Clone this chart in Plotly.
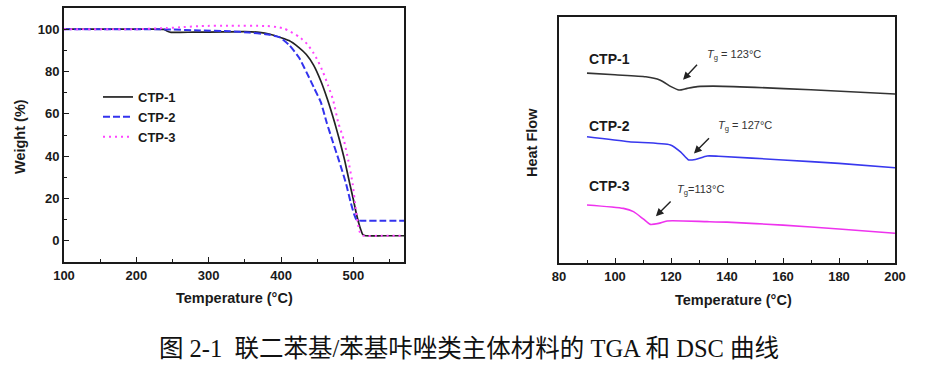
import plotly.graph_objects as go

# ---------------- TGA data (left panel) ----------------
tga_names = ["CTP-1", "CTP-2", "CTP-3"]
tga_temp_1 = [100, 200, 238, 243, 248, 280, 320, 350, 370, 385, 398, 411, 424, 435, 445, 455, 464, 474, 481, 488, 495, 500, 504, 509, 513, 517, 540, 570]
tga_wt_1 = [100, 100, 99.9, 99.0, 98.5, 98.6, 98.7, 98.8, 98.5, 97.6, 96.2, 94.6, 91.5, 88.0, 83.0, 75.5, 67.0, 56.0, 47.4, 38.0, 27.0, 19.5, 13.0, 6.5, 3.0, 2.4, 2.4, 2.4]
tga_temp_2 = [100, 200, 240, 287, 330, 356, 379, 398, 411, 425, 439, 446, 455, 463, 471, 480, 490, 496, 501, 504, 507, 512, 540, 570]
tga_wt_2 = [100, 100, 99.9, 99.4, 99.0, 98.4, 97.6, 96.2, 92.6, 86.5, 77.0, 72.0, 65.5, 56.0, 47.4, 38.0, 26.9, 18.5, 12.6, 10.2, 9.6, 9.5, 9.5, 9.5]
tga_temp_3 = [100, 200, 241, 265, 290, 330, 379, 395, 405, 425, 436, 444, 451, 458, 465, 472, 479, 487, 493, 499, 503, 506, 509, 513, 540, 570]
tga_wt_3 = [100, 100, 100.5, 101.0, 101.5, 101.6, 101.5, 101.0, 100.2, 96.4, 93.0, 89.2, 85.0, 79.8, 73.5, 66.5, 56.0, 47.4, 38.0, 26.9, 16.0, 8.5, 4.0, 2.5, 2.4, 2.4]

# ---------------- DSC data (right panel) ----------------
dsc_temp_1 = [90, 100, 111, 116, 120, 122.8, 125.8, 129.4, 135, 150, 170, 200]
dsc_hf_1 = [77.2, 76.5, 75.7, 74.4, 71.7, 70.3, 71.0, 71.7, 71.9, 71.4, 70.4, 68.7]
dsc_temp_2 = [90, 105, 119.8, 123.4, 126.3, 128.7, 132.9, 137, 160, 180, 200]
dsc_hf_2 = [51.3, 49.3, 48.0, 45.2, 41.9, 42.1, 43.5, 43.4, 41.9, 40.5, 38.7]
dsc_temp_3 = [90, 103, 106.6, 110.2, 112.6, 115.6, 118.6, 132.9, 140, 160, 180, 200]
dsc_hf_3 = [23.6, 22.2, 20.9, 17.8, 15.7, 16.1, 17.1, 16.8, 16.6, 15.4, 13.8, 12.1]

dsc_labels = ["CTP-1", "CTP-2", "CTP-3"]
dsc_label_x = [90, 90, 90]
dsc_label_y = [82.9, 55.8, 31.3]

tg_texts = ["<i>T</i><sub>g</sub> = 123°C", "<i>T</i><sub>g</sub> = 127°C", "<i>T</i><sub>g</sub>=113°C"]
tg_text_x = [142.5, 146.5, 130.5]
tg_text_y = [84.5, 55.5, 29.5]
tg_arrow_head_x = [124.3, 128.2, 114.6]
tg_arrow_head_y = [74.5, 44.5, 19.0]
tg_arrow_tail_x = [129.8, 134.1, 120.4]
tg_arrow_tail_y = [81.2, 51.3, 25.6]

caption = "图 2-1  联二苯基/苯基咔唑类主体材料的 TGA 和 DSC 曲线"

# ---------------- styles ----------------
tga_colors = ["#222222", "#3333ee", "#ff44ff"]
tga_dash = ["solid", "7px,3px", "2px,4px"]
tga_width = [1.7, 2.0, 2.0]
dsc_colors = ["#333333", "#3838ee", "#ee33ee"]

SANS = "Liberation Sans, Arial, sans-serif"
INK = "#1a1a1a"

fig = go.Figure()

tga_t = [tga_temp_1, tga_temp_2, tga_temp_3]
tga_w = [tga_wt_1, tga_wt_2, tga_wt_3]
for i in range(3):
    fig.add_trace(go.Scatter(
        x=tga_t[i], y=tga_w[i], name=tga_names[i], mode="lines",
        line=dict(color=tga_colors[i], width=tga_width[i], dash=tga_dash[i],
                  shape="spline", smoothing=0.5),
        xaxis="x", yaxis="y", showlegend=True))

dsc_t = [dsc_temp_1, dsc_temp_2, dsc_temp_3]
dsc_h = [dsc_hf_1, dsc_hf_2, dsc_hf_3]
for i in range(3):
    fig.add_trace(go.Scatter(
        x=dsc_t[i], y=dsc_h[i], name=dsc_labels[i], mode="lines",
        line=dict(color=dsc_colors[i], width=1.6, shape="spline", smoothing=0.6),
        xaxis="x2", yaxis="y2", showlegend=False))

tick_font = dict(family=SANS, size=13, color=INK, weight="bold")
axis_common = dict(showline=True, linecolor=INK, linewidth=2, mirror=True,
                   showgrid=False, zeroline=False, ticks="inside", ticklen=5,
                   tickwidth=1.4, tickcolor=INK, tickfont=tick_font, automargin=False)

fig.update_layout(
    width=926, height=369,
    margin=dict(l=0, r=0, t=0, b=0, pad=0),
    paper_bgcolor="white", plot_bgcolor="white",
    xaxis=dict(domain=[64 / 926, 404 / 926], range=[100, 570], tick0=100, dtick=100,
               minor=dict(dtick=50, ticks="inside", ticklen=3, tickcolor=INK),
               anchor="y", **axis_common),
    yaxis=dict(domain=[1 - 262 / 369, 1 - 8 / 369], range=[-10, 110], tick0=0, dtick=20,
               minor=dict(dtick=10, ticks="inside", ticklen=3, tickcolor=INK),
               anchor="x", **axis_common),
    xaxis2=dict(domain=[559 / 926, 895 / 926], range=[80, 200], tick0=80, dtick=20,
                minor=dict(dtick=10, ticks="inside", ticklen=3, tickcolor=INK),
                anchor="y2", **axis_common),
    yaxis2=dict(domain=[1 - 263 / 369, 1 - 17 / 369], range=[0, 100],
                showline=True, linecolor=INK, linewidth=2, mirror=True,
                showgrid=False, zeroline=False, ticks="", showticklabels=False,
                anchor="x2", automargin=False),
    legend=dict(x=98 / 926, y=1 - 82 / 369, xanchor="left", yanchor="top",
                bgcolor="rgba(0,0,0,0)", borderwidth=0,
                font=dict(family=SANS, size=13, color=INK, weight="bold"),
                itemwidth=30, tracegroupgap=0),
    showlegend=True,
)

title_font = dict(family=SANS, size=14.5, color=INK, weight="bold")
ann = []
# axis titles
ann.append(dict(text="Temperature (°C)", x=234 / 926, y=1 - 298 / 369, xref="paper", yref="paper",
                showarrow=False, font=title_font, xanchor="center", yanchor="middle"))
ann.append(dict(text="Weight (%)", x=20 / 926, y=1 - 137 / 369, xref="paper", yref="paper",
                showarrow=False, font=title_font, textangle=-90, xanchor="center", yanchor="middle"))
ann.append(dict(text="Temperature (°C)", x=733 / 926, y=1 - 300 / 369, xref="paper", yref="paper",
                showarrow=False, font=title_font, xanchor="center", yanchor="middle"))
ann.append(dict(text="Heat Flow", x=532 / 926, y=1 - 143 / 369, xref="paper", yref="paper",
                showarrow=False, font=title_font, textangle=-90, xanchor="center", yanchor="middle"))
# DSC curve labels
for i in range(3):
    ann.append(dict(text=dsc_labels[i], x=dsc_label_x[i], y=dsc_label_y[i], xref="x2", yref="y2",
                    showarrow=False, xanchor="left", yanchor="middle",
                    font=dict(family=SANS, size=14, color=INK, weight="bold")))
# Tg text + arrows
for i in range(3):
    ann.append(dict(text=tg_texts[i], x=tg_text_x[i], y=tg_text_y[i], xref="x2", yref="y2",
                    showarrow=False, xanchor="center", yanchor="middle",
                    font=dict(family=SANS, size=11, color="#333333")))
    ann.append(dict(text="", x=tg_arrow_head_x[i], y=tg_arrow_head_y[i], xref="x2", yref="y2",
                    ax=tg_arrow_tail_x[i], ay=tg_arrow_tail_y[i], axref="x2", ayref="y2",
                    showarrow=True, arrowhead=2, arrowsize=1.1, arrowwidth=1.4,
                    arrowcolor="#222222"))
# caption
ann.append(dict(text=caption, x=469 / 926, y=1 - 348 / 369, xref="paper", yref="paper",
                showarrow=False, xanchor="center", yanchor="middle",
                font=dict(family="Liberation Serif, Noto Sans CJK SC, serif", size=24.5, color="#111111")))

fig.update_layout(annotations=ann)
fig.write_html("out.html", config={"displayModeBar": False},
               post_script="document.body.style.margin='0';")
